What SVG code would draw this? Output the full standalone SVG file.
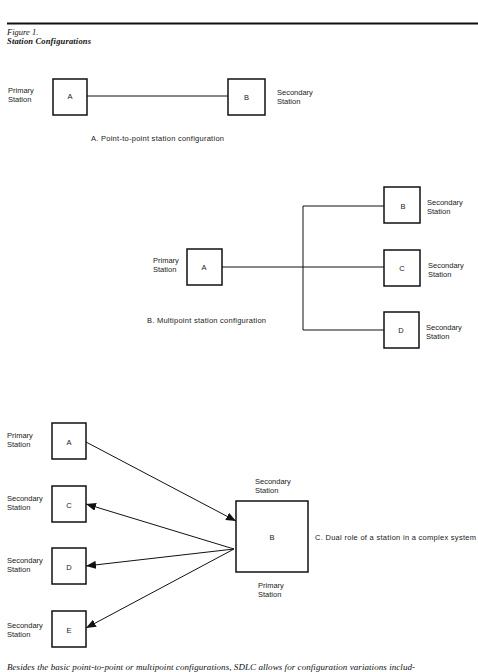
<svg xmlns="http://www.w3.org/2000/svg" width="478" height="672" viewBox="0 0 478 672">
<style>
.box{fill:#fff;stroke:#111;stroke-width:1.5}
.ln{fill:none;stroke:#111;stroke-width:1}
.t{font-family:"Liberation Sans",Arial,sans-serif;font-size:7.5px;fill:#1a1a1a}
.c{text-anchor:middle}
.hd{font-family:"Liberation Serif","Times New Roman",serif;fill:#111}
</style>
<defs>
<marker id="ah" viewBox="0 0 10 8" refX="10" refY="4" markerWidth="10" markerHeight="8" markerUnits="userSpaceOnUse" orient="auto">
<path d="M0,0 L10,4 L0,8 Z" fill="#111"/>
</marker>
</defs>
<rect width="478" height="672" fill="#fff"/>
<line x1="7" y1="23.5" x2="478" y2="23.5" stroke="#111" stroke-width="2"/>
<text class="hd" x="7" y="35" font-size="8.5" font-style="italic">Figure 1.</text>
<text class="hd" x="7" y="44" font-size="8.5" font-style="italic" font-weight="bold" textLength="84">Station Configurations</text>

<g id="connectors">
<line class="ln" x1="87" y1="96" x2="228" y2="96"/>
<line class="ln" x1="222" y1="267" x2="384" y2="267"/>
<polyline class="ln" points="384,206 303,206 303,330 384,330"/>
<line class="ln" x1="86" y1="442" x2="236" y2="521" marker-end="url(#ah)"/>
<line class="ln" x1="234" y1="549" x2="86" y2="504" marker-end="url(#ah)"/>
<line class="ln" x1="234" y1="549" x2="86" y2="566" marker-end="url(#ah)"/>
<line class="ln" x1="234" y1="549" x2="86" y2="628" marker-end="url(#ah)"/>
</g>

<g id="a-A"><rect class="box" x="53" y="79" width="34" height="36"/><text class="t c" x="70" y="99">A</text></g>
<g id="a-B"><rect class="box" x="228" y="79" width="37" height="36"/><text class="t c" x="246.5" y="99.5">B</text></g>
<text class="t" x="8" y="93">Primary</text><text class="t" x="8" y="102">Station</text>
<text class="t" x="277" y="95">Secondary</text><text class="t" x="277" y="104">Station</text>
<text class="t" x="91" y="141" textLength="133">A. Point-to-point station configuration</text>

<g id="b-A"><rect class="box" x="187" y="249" width="35" height="36"/><text class="t c" x="204" y="270">A</text></g>
<g id="b-B"><rect class="box" x="384" y="187" width="36" height="36"/><text class="t c" x="403" y="209">B</text></g>
<g id="b-C"><rect class="box" x="384" y="250" width="36" height="36"/><text class="t c" x="402" y="270.5">C</text></g>
<g id="b-D"><rect class="box" x="384" y="312" width="35" height="36"/><text class="t c" x="401" y="333">D</text></g>
<text class="t" x="153" y="263">Primary</text><text class="t" x="153" y="272">Station</text>
<text class="t" x="427" y="205">Secondary</text><text class="t" x="427" y="214">Station</text>
<text class="t" x="428" y="268">Secondary</text><text class="t" x="428" y="277">Station</text>
<text class="t" x="426" y="330">Secondary</text><text class="t" x="426" y="339">Station</text>
<text class="t" x="147" y="322.5" textLength="119">B. Multipoint station configuration</text>

<g id="c-A"><rect class="box" x="52" y="423" width="34" height="36"/><text class="t c" x="69" y="444.5">A</text></g>
<g id="c-C"><rect class="box" x="52" y="486" width="34" height="36"/><text class="t c" x="69" y="507.5">C</text></g>
<g id="c-D"><rect class="box" x="52" y="548" width="34" height="36"/><text class="t c" x="69" y="569.5">D</text></g>
<g id="c-E"><rect class="box" x="52" y="611" width="34" height="36"/><text class="t c" x="69" y="632.5">E</text></g>
<g id="c-B"><rect class="box" x="236" y="501" width="72" height="71"/><text class="t c" x="272" y="539.5">B</text></g>
<text class="t" x="7" y="438">Primary</text><text class="t" x="7" y="447">Station</text>
<text class="t" x="7" y="501">Secondary</text><text class="t" x="7" y="510">Station</text>
<text class="t" x="7" y="563">Secondary</text><text class="t" x="7" y="572">Station</text>
<text class="t" x="7" y="628">Secondary</text><text class="t" x="7" y="637">Station</text>
<text class="t" x="255" y="484">Secondary</text><text class="t" x="255" y="493">Station</text>
<text class="t" x="258" y="588">Primary</text><text class="t" x="258" y="597">Station</text>
<text class="t" x="315" y="540" textLength="161">C. Dual role of a station in a complex system</text>

<text class="hd" x="7" y="670" font-size="9" font-style="italic" textLength="408">Besides the basic point-to-point or multipoint configurations, SDLC allows for configuration variations includ-</text>
</svg>
